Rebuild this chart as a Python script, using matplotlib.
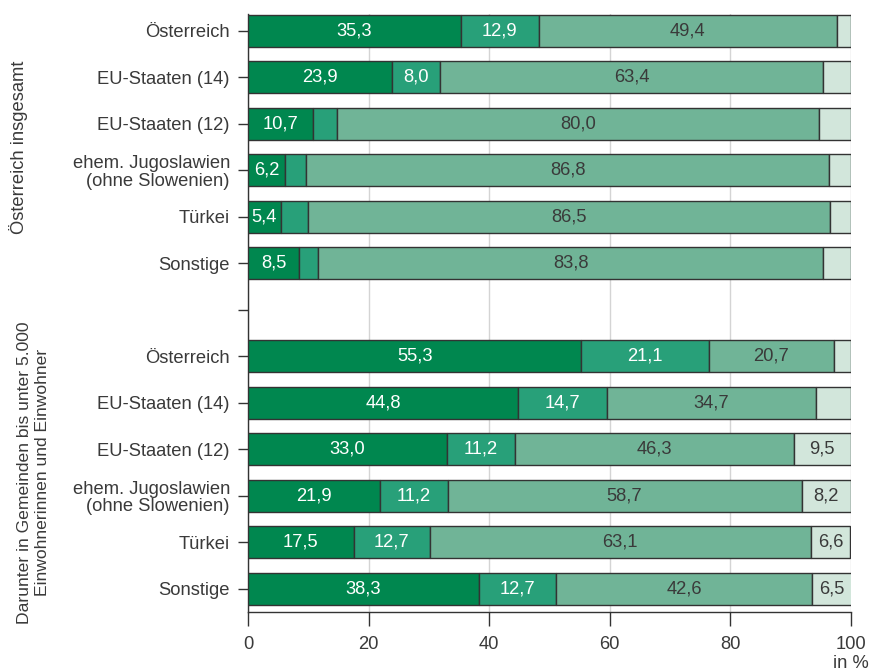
import matplotlib
matplotlib.use("Agg")
import matplotlib.pyplot as plt
import matplotlib.transforms as mtransforms

plt.rcParams["font.family"] = ["Liberation Sans", "DejaVu Sans"]

# Categories (top to bottom); an empty entry separates the two groups
categories = [
    "Österreich", "EU-Staaten (14)", "EU-Staaten (12)",
    "ehem. Jugoslawien\n(ohne Slowenien)", "Türkei", "Sonstige",
    "",
    "Österreich", "EU-Staaten (14)", "EU-Staaten (12)",
    "ehem. Jugoslawien\n(ohne Slowenien)", "Türkei", "Sonstige",
]

# Shares in % for the four stacked segments (None = empty separator row)
seg1 = [35.3, 23.9, 10.7, 6.2, 5.4, 8.5, None, 55.3, 44.8, 33.0, 21.9, 17.5, 38.3]
seg2 = [12.9, 8.0, 4.0, 3.4, 4.6, 3.1, None, 21.1, 14.7, 11.2, 11.2, 12.7, 12.7]
seg3 = [49.4, 63.4, 80.0, 86.8, 86.5, 83.8, None, 20.7, 34.7, 46.3, 58.7, 63.1, 42.6]
seg4 = [2.4, 4.7, 5.3, 3.6, 3.5, 4.6, None, 2.9, 5.8, 9.5, 8.2, 6.6, 6.5]

group_titles = ["Österreich insgesamt",
                "Darunter in Gemeinden bis unter 5.000\nEinwohnerinnen und Einwohner"]
xticks = [0, 20, 40, 60, 80, 100]

colors = ["#00874f", "#28a079", "#70b497", "#d2e6db"]
text_colors = ["white", "white", "#3a3a3a", "#3a3a3a"]
edge = "#333333"
tc = "#3a3a3a"
FS = 13.2

fig = plt.figure(figsize=(8.75, 6.71), dpi=100)
ax = fig.add_axes([248 / 875, 1 - 612 / 671, (851 - 248) / 875, (612 - 14) / 671])

series = [seg1, seg2, seg3, seg4]
for i in range(len(categories)):
    if seg1[i] is None:
        continue
    left = 0.0
    for k, s in enumerate(series):
        v = s[i]
        ax.barh(i, v, left=left, height=0.69, color=colors[k],
                edgecolor=edge, linewidth=1.0, zorder=3)
        if k == 0 or v >= 6:
            ax.text(left + v / 2, i, f"{v:.1f}".replace(".", ","),
                    ha="center", va="center", fontsize=FS,
                    color=text_colors[k], zorder=4)
        left += v

ax.set_ylim(12.5, -0.36)
ax.set_xlim(0, 100)
ax.set_yticks(range(len(categories)))
ax.set_yticklabels(categories, fontsize=FS, color=tc, linespacing=1.05)
ax.set_xticks(xticks)
ax.set_xticklabels([str(t) for t in xticks], fontsize=FS, color=tc)
ax.tick_params(axis="y", length=7, width=1, color="#333333", pad=6)
ax.tick_params(axis="x", length=10, width=1, color="#333333", pad=7)

ax.grid(axis="x", color="#d4d4d4", linewidth=1, zorder=0)
ax.set_axisbelow(True)
for side in ["top", "right"]:
    ax.spines[side].set_visible(False)
for side in ["left", "bottom"]:
    ax.spines[side].set_color("#333333")
    ax.spines[side].set_linewidth(1)

ax.text(100, -0.072, "in %", transform=ax.get_xaxis_transform(),
        ha="center", va="top", fontsize=FS, color=tc)

# Group titles, rotated, centered on each group of rows
blend = mtransforms.blended_transform_factory(fig.transFigure, ax.transData)
ax.text(19 / 875, 2.5, group_titles[0], transform=blend, rotation=90,
        ha="center", va="center", fontsize=FS, color=tc)
ax.text(34 / 875, 9.5, group_titles[1], transform=blend, rotation=90,
        ha="center", va="center", fontsize=12.6, color=tc,
        multialignment="center", linespacing=1.25)

fig.savefig("out.png", dpi=100)
